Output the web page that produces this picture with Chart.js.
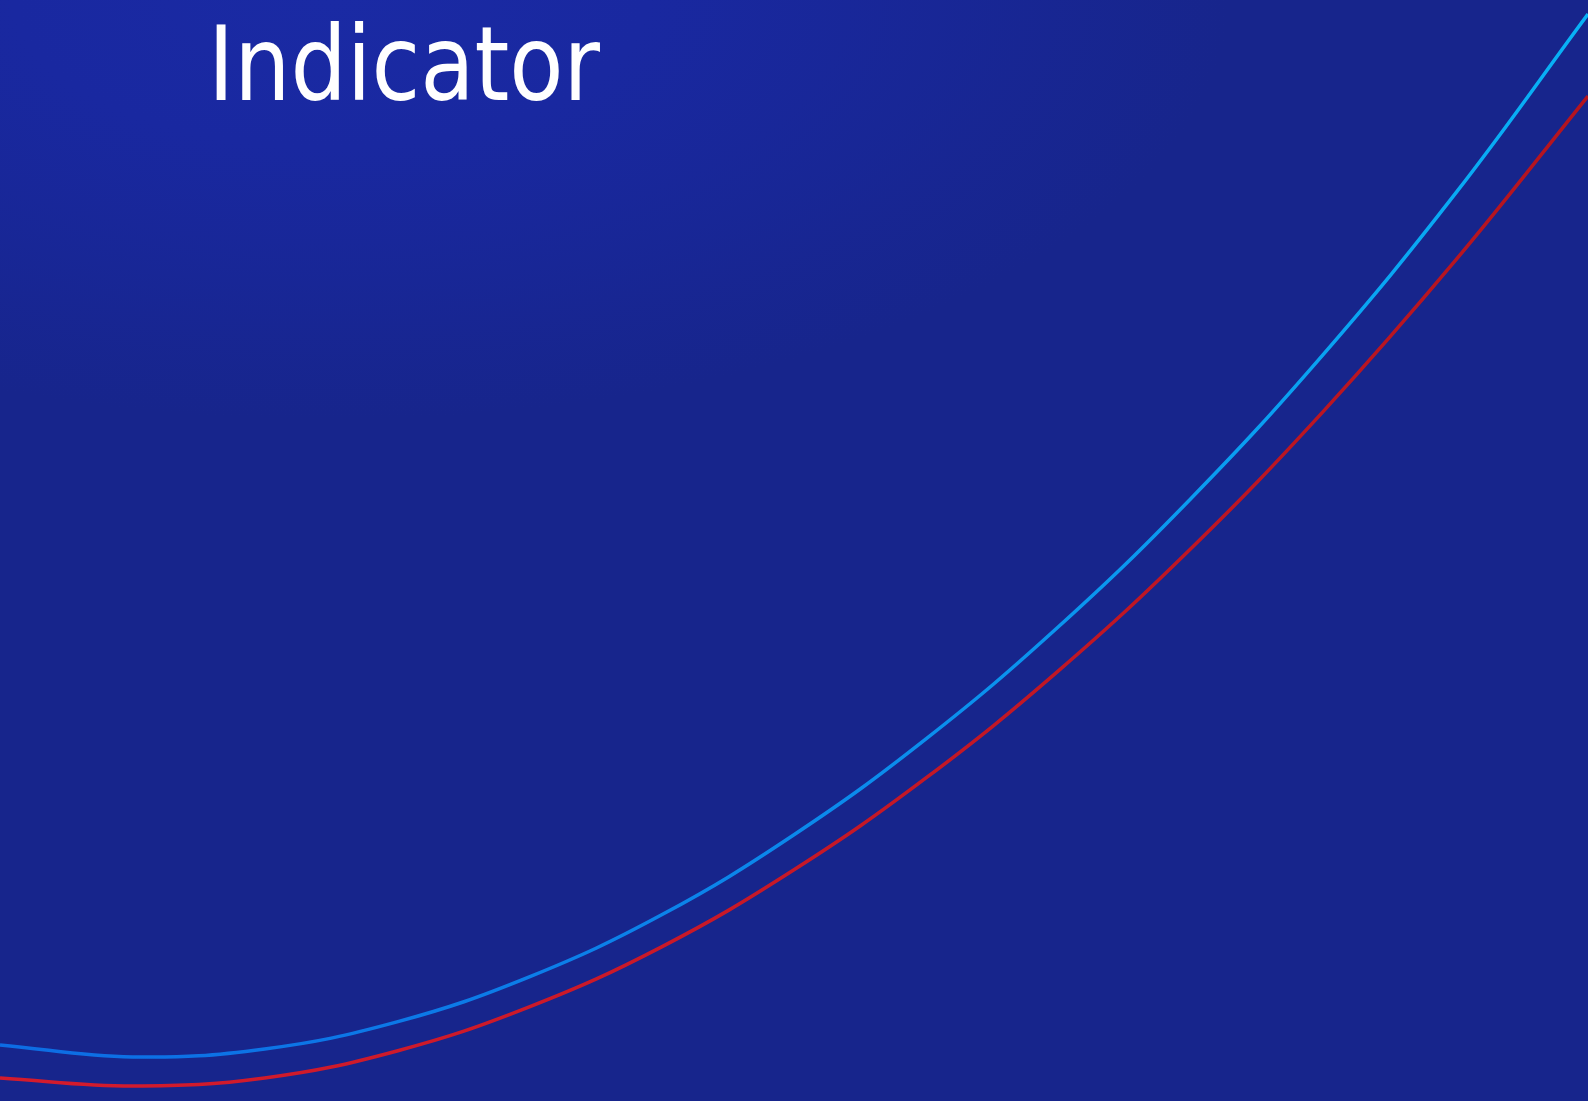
<!DOCTYPE html>
<html>
<head>
<meta charset="utf-8">
<script src="https://cdn.jsdelivr.net/npm/chart.js@4"></script>
<style>
  html, body { margin: 0; padding: 0; }
  body {
    width: 1588px; height: 1101px; overflow: hidden; position: relative;
    background: radial-gradient(ellipse 900px 420px at 330px 0px, #1a2aa4 0%, #1928a0 35%, #17258c 100%);
  }
  #wrap { position: absolute; left: 0; top: 0; width: 1588px; height: 1101px; }
  #title {
    position: absolute; left: 208px; top: 13px; margin: 0;
    font-family: "DejaVu Sans Condensed", "DejaVu Sans", sans-serif;
    font-weight: normal; font-size: 103px; line-height: 1;
    color: #ffffff; transform-origin: 0 0; white-space: nowrap;
  }
</style>
</head>
<body>
<div id="wrap"><canvas id="chart"></canvas></div>
<h1 id="title">Indicator</h1>
<script>
// values, 13 evenly spaced steps
var steps = ['0', '1', '2', '3', '4', '5', '6', '7', '8', '9', '10', '11', '12'];
var upperValues = [5.6, 4.4, 5.2, 7.9, 12.4, 18.6, 26.6, 36.2, 47.4, 60.2, 74.6, 90.7, 108.6];
var lowerValues = [2.3, 1.5, 2.3, 5.0, 9.4, 15.4, 23.1, 32.3, 43.0, 55.2, 68.9, 84.0, 100.4];

function lineGradient(from, to) {
    return function (context) {
        var chart = context.chart;
        var area = chart.chartArea;
        if (!area) {
            return from;
        }
        var g = chart.ctx.createLinearGradient(area.left, area.bottom, area.right, area.top);
        g.addColorStop(0, from);
        g.addColorStop(1, to);
        return g;
    };
}

new Chart(document.getElementById('chart'), {
    type: 'line',
    data: {
        labels: steps,
        datasets: [
            {
                label: 'upper',
                data: upperValues,
                borderColor: lineGradient('#0d6be4', '#08b2f6'),
                borderWidth: 3.5,
                pointRadius: 0,
                tension: 0.4,
                fill: false
            },
            {
                label: 'lower',
                data: lowerValues,
                borderColor: lineGradient('#d41b2d', '#b3141e'),
                borderWidth: 3.5,
                pointRadius: 0,
                tension: 0.4,
                fill: false
            }
        ]
    },
    options: {
        responsive: true,
        maintainAspectRatio: false,
        animation: false,
        layout: { padding: 0 },
        plugins: {
            legend: { display: false },
            tooltip: { enabled: false },
            title: { display: false }
        },
        scales: {
            x: { display: false, offset: false },
            y: { display: false, min: 0, max: 110 }
        }
    }
});

// squeeze the heading to the narrow face of the original
var title = document.getElementById('title');
var w = title.getBoundingClientRect().width;
title.style.transform = 'scaleX(' + (392 / w) + ')';
</script>
</body>
</html>
